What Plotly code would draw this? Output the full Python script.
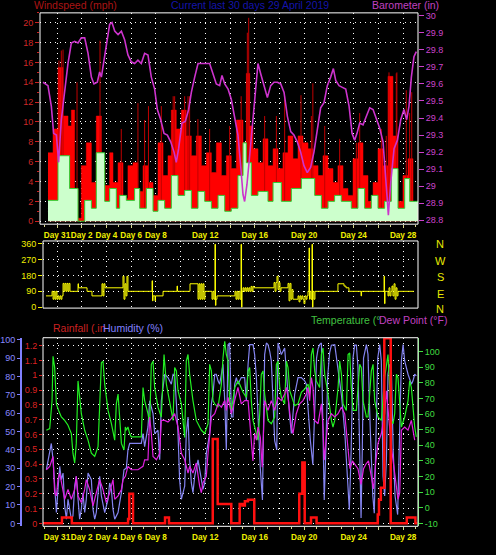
import plotly.graph_objects as go

W, H = 496, 555

# ---------------- data (time in days relative to 31 March 00:00) ----------------
day_ticks = [0, 2, 4, 6, 8, 10, 12, 14, 16, 18, 20, 22, 24, 26, 28]
day_text = ["Day 31", "Day 2", "Day 4", "Day 6", "Day 8", "", "Day 12", "", "Day 16", "",
            "Day 20", "", "Day 24", "", "Day 28"]

wind_ticks = [0, 2, 4, 6, 8, 10, 12, 14, 16, 18, 20]
baro_ticks = [28.8, 28.9, 29.0, 29.1, 29.2, 29.3, 29.4, 29.5, 29.6, 29.7, 29.8, 29.9, 30.0]
baro_text = ["28.8", "28.9", "29", "29.1", "29.2", "29.3", "29.4", "29.5", "29.6", "29.7", "29.8", "29.9", "30"]
dir_ticks = [0, 90, 180, 270, 360]
rain_ticks = [0, 0.1, 0.2, 0.3, 0.4, 0.5, 0.6, 0.7, 0.8, 0.9, 1.0, 1.1, 1.2]
rain_text = ["0", "0.1", "0.2", "0.3", "0.4", "0.5", "0.6", "0.7", "0.8", "0.9", "1", "1.1", "1.2"]
hum_ticks = [0, 10, 20, 30, 40, 50, 60, 70, 80, 90, 100]
temp_ticks = [-10, 0, 10, 20, 30, 40, 50, 60, 70, 80, 90, 100]
temp_text = ["-10", "0", "10", "20", "30", "40", "50", "60", "70", "80", "90", "100"]

gust_t = [-0.73, -0.32, 0.08, 0.49, 0.89, 1.16, 1.43, 1.70, 1.97, 2.37,
          2.78, 3.18, 3.59, 3.86, 4.26, 4.53, 4.94, 5.34, 5.74, 6.15,
          6.55, 6.96, 7.36, 7.77, 8.17, 8.58, 8.98, 9.25, 9.65, 10.06,
          10.46, 10.87, 11.27, 11.68, 12.08, 12.49, 12.89, 13.30, 13.70, 14.10,
          14.51, 15.05, 15.32, 15.59, 15.86, 16.26, 16.67, 17.07, 17.48, 17.88,
          18.28, 18.69, 19.09, 19.50, 19.90, 20.31, 20.71, 21.12, 21.52, 21.93,
          22.33, 22.73, 23.14, 23.54, 23.95, 24.35, 24.76, 25.16, 25.57, 25.97,
          26.38, 26.78, 27.18, 27.59, 27.99, 28.40, 28.80, 29.20]
gust_v = [6.9, 9.3, 15.5, 10.6, 9.6, 11.2, 3.3, 0.3, 5.6, 7.9,
          3.9, 10.6, 5.9, 3.6, 6.9, 3.9, 5.9, 2.3, 5.6, 5.9,
          3.0, 5.6, 3.9, 2.6, 7.9, 4.6, 6.6, 11.2, 9.3, 11.2,
          8.6, 6.6, 8.6, 5.6, 6.9, 4.9, 7.9, 4.6, 6.6, 5.3,
          10.2, 7.9, 14.9, 9.6, 7.3, 5.9, 8.3, 5.6, 7.3, 5.3,
          6.9, 8.6, 6.3, 8.6, 7.9, 7.3, 5.6, 4.6, 6.6, 5.3,
          3.9, 5.6, 3.3, 2.6, 6.3, 7.9, 4.6, 2.0, 3.9, 7.3,
          5.6, 14.6, 8.6, 2.0, 4.6, 6.3, 1.3, 1.3]

peak_t = [0.16, 0.35, 0.49, 1.62, 3.48, 5.2, 6.55, 7.09, 7.4, 8.44,
          9.4, 9.52, 10.33, 10.6, 10.73, 11.4, 12.35, 13.97, 14.9, 15.4,
          15.51, 16.8, 17.75, 18.42, 19.74, 20.58, 20.7, 21.66, 22.87, 24.22,
          24.49, 26.24, 26.64, 26.86, 27.45, 27.5, 28.26, 28.53, 28.7]
peak_v = [16.2, 17.2, 17.3, 14.0, 18.2, 9.3, 11.9, 10.2, 11.6, 11.6,
          12.6, 12.6, 12.6, 12.6, 12.6, 10.3, 9.3, 9.6, 12.6, 19.0,
          20.5, 10.6, 10.6, 12.6, 12.7, 10.6, 13.9, 9.6, 8.3, 7.9,
          10.9, 9.3, 8.6, 15.0, 14.9, 15.0, 13.2, 10.9, 13.0]

avg_t = [-0.73, 0.08, 1.02, 1.70, 2.24, 2.78, 3.18, 3.86, 4.26, 4.80,
         5.07, 5.61, 6.28, 6.69, 7.23, 7.77, 8.17, 8.71, 9.25, 9.79,
         10.33, 10.87, 11.41, 11.95, 12.49, 13.03, 13.57, 14.10, 14.64, 15.05,
         15.32, 15.72, 16.26, 17.07, 17.48, 18.15, 18.96, 19.77, 20.85, 21.39,
         21.93, 22.46, 23.00, 23.81, 24.35, 24.89, 25.43, 25.97, 26.51, 27.05,
         27.59, 28.13, 28.53, 29.20]
avg_v = [2.1, 6.6, 3.3, 0, 2.1, 1.3, 6.9, 2.0, 3.3, 1.3,
         2.6, 2.1, 3.3, 1.3, 3.3, 1.0, 2.1, 1.3, 4.6, 2.6,
         3.1, 1.3, 3.0, 2.0, 1.3, 2.6, 1.0, 1.3, 4.6, 7.9,
         5.9, 2.6, 3.0, 2.0, 3.9, 2.0, 3.3, 4.3, 2.6, 1.3,
         2.0, 2.6, 2.0, 1.3, 3.3, 1.3, 2.6, 1.3, 2.0, 5.3,
         1.3, 4.3, 2.0, 2.0]

baro_t = [-1.13, -0.73, -0.46, -0.27, -0.05, 0.13, 0.35, 0.62, 0.89, 1.16,
          1.43, 1.70, 1.97, 2.24, 2.51, 2.78, 2.99, 3.26, 3.45, 3.59,
          3.80, 4.05, 4.26, 4.45, 4.67, 4.94, 5.21, 5.47, 5.74, 6.01,
          6.28, 6.55, 6.82, 7.09, 7.36, 7.63, 7.90, 8.12, 8.39, 8.66,
          8.93, 9.20, 9.47, 9.65, 9.84, 10.11, 10.38, 10.65, 10.87, 11.14,
          11.41, 11.73, 12.08, 12.35, 12.62, 12.89, 13.16, 13.35, 13.57, 13.84,
          14.10, 14.37, 14.64, 14.86, 15.05, 15.18, 15.37, 15.59, 15.78, 16.05,
          16.26, 16.48, 16.75, 17.02, 17.29, 17.56, 17.83, 18.10, 18.37, 18.64,
          18.91, 19.17, 19.44, 19.71, 19.98, 20.25, 20.52, 20.79, 21.06, 21.33,
          21.60, 21.87, 22.14, 22.36, 22.55, 22.82, 23.09, 23.36, 23.63, 23.87,
          24.08, 24.27, 24.49, 24.76, 25.03, 25.30, 25.57, 25.84, 26.11, 26.38,
          26.56, 26.70, 26.81, 27.00, 27.27, 27.54, 27.81, 28.07, 28.29, 28.48,
          28.67, 28.88, 29.07]
baro_v = [29.61, 29.59, 29.47, 29.31, 29.30, 29.14, 29.39, 29.55, 29.72, 29.84,
          29.85, 29.84, 29.87, 29.87, 29.78, 29.64, 29.60, 29.61, 29.67, 29.64,
          29.74, 29.87, 29.95, 29.96, 29.91, 29.89, 29.91, 29.86, 29.77, 29.73,
          29.72, 29.74, 29.72, 29.78, 29.77, 29.64, 29.57, 29.45, 29.39, 29.31,
          29.30, 29.26, 29.20, 29.14, 29.22, 29.37, 29.38, 29.45, 29.55, 29.64,
          29.72, 29.72, 29.72, 29.72, 29.66, 29.60, 29.59, 29.65, 29.60, 29.57,
          29.51, 29.41, 29.30, 29.12, 28.95, 28.91, 29.01, 29.18, 29.33, 29.59,
          29.72, 29.66, 29.59, 29.52, 29.59, 29.61, 29.61, 29.60, 29.55, 29.41,
          29.32, 29.30, 29.26, 29.20, 29.12, 29.08, 29.11, 29.20, 29.33, 29.46,
          29.49, 29.59, 29.64, 29.69, 29.62, 29.59, 29.58, 29.57, 29.47, 29.31,
          29.27, 29.31, 29.37, 29.36, 29.41, 29.46, 29.45, 29.39, 29.34, 29.26,
          29.10, 28.93, 28.83, 29.02, 29.22, 29.27, 29.39, 29.45, 29.39, 29.47,
          29.64, 29.76, 29.79]

dir_t = [-0.89, -0.40, -0.32, -0.24, -0.16, -0.08, 0.00, 0.08, 0.16, 0.24,
         0.32, 0.40, 0.49, 0.57, 0.65, 0.73, 0.81, 0.89, 0.97, 1.05,
         1.70, 1.74, 2.43, 2.83, 3.64, 3.72, 3.80, 3.88, 5.34, 5.42,
         5.50, 5.58, 5.66, 5.74, 7.69, 7.73, 7.77, 7.93, 7.97, 8.58,
         9.71, 9.75, 10.76, 11.41, 11.49, 11.57, 11.65, 11.73, 11.81, 11.89,
         11.97, 12.54, 12.62, 12.70, 12.78, 12.82, 12.86, 12.94, 14.40, 14.48,
         14.56, 14.64, 14.72, 14.81, 14.89, 14.93, 14.97, 15.05, 15.13, 15.21,
         15.29, 15.37, 15.45, 15.53, 15.61, 15.70, 15.78, 15.86, 15.94, 17.56,
         17.64, 17.72, 17.80, 17.88, 17.96, 18.04, 18.12, 18.69, 18.77, 18.85,
         18.93, 19.01, 19.09, 19.50, 19.58, 19.66, 19.74, 19.82, 19.90, 19.98,
         20.06, 20.15, 20.23, 20.31, 20.39, 20.43, 20.47, 20.55, 20.63, 20.67,
         20.71, 20.79, 20.87, 22.73, 23.22, 23.38, 23.62, 24.60, 24.64, 26.46,
         26.50, 26.54, 26.78, 26.86, 26.94, 27.02, 27.10, 27.18, 27.27, 27.35,
         27.43, 27.51, 27.59, 28.88]
dir_v = [64, 90, 45, 90, 45, 90, 45, 64, 45, 64,
         45, 64, 135, 90, 135, 90, 135, 90, 135, 90,
         133, 110, 90, 64, 133, 64, 133, 110, 176, 45,
         133, 64, 176, 90, 150, 36, 64, 36, 64, 90,
         120, 90, 133, 45, 133, 45, 133, 45, 133, 45,
         90, 45, 90, 45, 358, 10, 45, 64, 90, 45,
         90, 45, 90, 45, 358, 0, 90, 110, 90, 110,
         90, 110, 90, 110, 90, 118, 90, 118, 110, 140,
         90, 140, 176, 100, 140, 90, 110, 135, 36, 135,
         45, 100, 45, 64, 30, 64, 45, 64, 45, 20,
         64, 45, 64, 90, 337, 45, 90, 45, 358, 0,
         90, 45, 90, 133, 120, 110, 90, 64, 90, 176,
         20, 90, 64, 110, 64, 90, 120, 64, 133, 45,
         110, 64, 90, 90]

temp_t = [-0.86, -0.59, -0.40, -0.32, -0.19, -0.05, 0.13, 0.35, 0.62, 0.89,
          1.16, 1.29, 1.43, 1.56, 1.70, 1.83, 1.97, 2.24, 2.51, 2.78,
          3.05, 3.32, 3.59, 3.72, 3.86, 4.13, 4.40, 4.67, 4.80, 4.94,
          5.07, 5.21, 5.42, 5.53, 5.61, 5.74, 5.88, 6.01, 6.55, 6.82,
          6.96, 7.09, 7.36, 7.50, 7.63, 7.77, 7.90, 8.17, 8.44, 8.58,
          8.66, 8.85, 9.12, 9.39, 9.52, 9.66, 9.79, 10.06, 10.33, 10.46,
          10.60, 10.73, 11.00, 11.27, 11.54, 11.68, 11.95, 12.22, 12.35, 12.49,
          12.62, 12.76, 13.03, 13.30, 13.43, 13.57, 13.70, 13.84, 13.97, 14.11,
          14.38, 14.64, 14.78, 15.05, 15.32, 15.46, 15.59, 15.72, 15.86, 16.13,
          16.26, 16.40, 16.53, 16.67, 16.80, 17.07, 17.34, 17.61, 17.75, 17.88,
          18.02, 18.15, 18.42, 18.56, 18.69, 18.83, 19.09, 19.23, 19.50, 19.77,
          20.04, 20.31, 20.44, 20.58, 20.71, 20.85, 20.98, 21.25, 21.39, 21.52,
          21.66, 21.93, 22.20, 22.33, 22.47, 22.74, 22.87, 23.01, 23.14, 23.41,
          23.55, 23.68, 23.81, 23.95, 24.22, 24.49, 24.62, 24.76, 25.03, 25.16,
          25.43, 25.57, 25.70, 25.97, 26.24, 26.38, 26.51, 26.78, 27.05, 27.19,
          27.32, 27.46, 27.59, 27.86, 28.13, 28.40, 28.53, 28.67, 28.80, 28.94,
          29.07]
temp_v = [49.6, 50.7, 68.6, 97.0, 89.7, 66.5, 62.3, 58.1, 55.9, 52.8,
          47.5, 34.9, 28.6, 41.2, 81.2, 70.7, 60.2, 49.6, 43.3, 34.9,
          32.8, 39.1, 92.8, 93.9, 79.1, 62.3, 53.8, 43.3, 66.5, 72.8,
          55.9, 41.2, 37.0, 51.7, 49.6, 51.7, 47.5, 45.4, 45.4, 45.4,
          77.0, 68.6, 60.2, 53.8, 91.8, 93.9, 77.0, 64.4, 58.1, 85.4,
          98.1, 79.1, 68.6, 55.9, 89.7, 87.6, 74.9, 66.5, 45.0, 93.9,
          98.1, 85.4, 68.6, 55.9, 51.7, 49.6, 47.5, 53.8, 91.8, 87.6,
          68.6, 66.5, 64.4, 79.1, 96.0, 106.5, 98.1, 93.9, 68.6, 62.3,
          77.0, 81.2, 79.1, 73.9, 70.7, 87.6, 89.7, 68.6, 55.9, 47.5,
          43.3, 60.2, 85.4, 87.6, 72.8, 55.9, 53.8, 58.1, 91.8, 93.9,
          77.0, 70.7, 66.5, 93.9, 89.7, 74.9, 68.6, 65.4, 66.5, 73.9,
          76.0, 79.1, 72.8, 98.1, 102.3, 87.6, 81.2, 77.0, 98.1, 102.3,
          85.4, 72.8, 55.9, 51.7, 55.9, 77.0, 93.9, 85.4, 66.5, 62.3,
          98.1, 99.1, 77.0, 62.3, 62.3, 91.8, 89.7, 68.6, 58.1, 58.1,
          87.6, 91.8, 68.6, 58.1, 55.9, 68.6, 83.3, 98.1, 55.9, 53.8,
          60.2, 85.4, 83.3, 51.7, 58.1, 68.6, 81.2, 77.0, 62.3, 51.7,
          45.4]

dew_t = [-0.86, -0.59, -0.32, -0.19, -0.05, 0.08, 0.22, 0.35, 0.62, 0.89,
         1.16, 1.43, 1.56, 1.70, 1.97, 2.24, 2.37, 2.64, 2.91, 3.18,
         3.45, 3.72, 3.99, 4.26, 4.53, 4.67, 4.94, 5.21, 5.34, 5.53,
         5.74, 6.01, 6.55, 6.96, 7.09, 7.36, 7.50, 7.63, 7.77, 8.04,
         8.31, 8.44, 8.71, 8.98, 9.25, 9.52, 9.79, 10.06, 10.33, 10.60,
         10.73, 11.00, 11.27, 11.54, 11.68, 11.81, 12.08, 12.22, 12.35, 12.49,
         12.76, 13.03, 13.30, 13.57, 13.70, 13.84, 14.11, 14.38, 14.64, 14.91,
         15.18, 15.46, 15.72, 15.85, 15.99, 16.13, 16.26, 16.45, 16.60, 16.72,
         16.80, 17.07, 17.34, 17.61, 17.88, 18.15, 18.42, 18.56, 18.69, 18.96,
         19.09, 19.36, 19.63, 19.90, 20.17, 20.31, 20.44, 20.58, 20.71, 20.85,
         21.12, 21.39, 21.52, 21.62, 21.93, 22.20, 22.47, 22.74, 23.01, 23.28,
         23.50, 23.70, 23.90, 24.10, 24.35, 24.60, 24.80, 25.00, 25.20, 25.43,
         25.60, 25.80, 25.97, 26.24, 26.51, 26.65, 26.78, 27.05, 27.32, 27.59,
         27.73, 27.86, 28.13, 28.40, 28.67, 28.94]
dew_v = [24.3, 26.5, 32.8, 9.6, 7.5, 18.0, 22.2, 15.9, 5.4, 11.7,
         5.4, 11.7, 20.1, 7.5, 3.3, 11.7, 18.0, 11.7, 1.2, 9.6,
         18.0, 11.7, 3.3, 9.6, 18.0, 5.4, 7.5, 11.7, 18.0, 20.1,
         26.5, 24.3, 24.3, 26.5, 30.7, 30.7, 58.1, 47.5, 32.8, 30.7,
         34.9, 55.9, 55.9, 54.9, 57.0, 60.2, 51.7, 34.9, 30.7, 22.2,
         26.5, 22.2, 28.6, 13.8, 9.6, 15.9, 20.1, 34.9, 45.4, 58.1,
         60.2, 66.5, 64.4, 68.6, 62.3, 70.7, 60.2, 69.6, 77.0, 66.5,
         68.6, 68.6, 40.0, 30.0, 47.5, 43.3, 51.7, 45.0, 26.0, 55.0,
         68.6, 62.3, 68.6, 62.3, 70.7, 68.6, 72.8, 77.0, 70.7, 51.7,
         47.5, 60.2, 66.5, 68.6, 72.8, 77.0, 68.6, 83.3, 77.0, 55.9,
         53.8, 66.5, 51.7, 30.5, 55.9, 60.2, 58.1, 60.2, 64.4, 60.0,
         40.0, 25.0, 30.0, 28.0, 25.0, 15.0, 25.0, 28.0, 30.0, 20.1,
         12.0, 30.0, 41.2, 47.5, 60.2, 74.9, 62.3, 39.1, 22.2, 5.4,
         9.6, 49.6, 51.7, 49.6, 55.9, 43.3]

hum_t = [-0.86, -0.59, -0.46, -0.32, -0.19, -0.05, 0.08, 0.22, 0.35, 0.49,
         0.62, 0.76, 0.89, 1.02, 1.16, 1.29, 1.43, 1.56, 1.70, 1.83,
         1.97, 2.10, 2.24, 2.37, 2.51, 2.78, 2.91, 3.05, 3.18, 3.32,
         3.45, 3.59, 3.86, 4.13, 4.26, 4.40, 4.53, 4.67, 4.94, 5.07,
         5.21, 5.42, 5.61, 5.74, 5.88, 6.15, 6.82, 6.96, 7.09, 7.36,
         7.50, 7.63, 7.77, 7.90, 8.17, 8.31, 8.44, 8.58, 8.71, 8.98,
         9.25, 9.39, 9.52, 9.66, 9.79, 9.92, 10.06, 10.33, 10.46, 10.60,
         10.73, 10.87, 11.00, 11.14, 11.41, 11.68, 11.81, 11.95, 12.08, 12.22,
         12.35, 12.49, 12.62, 12.76, 12.89, 13.03, 13.16, 13.30, 13.43, 13.57,
         13.70, 13.84, 13.97, 14.11, 14.24, 14.38, 14.51, 14.64, 14.91, 15.18,
         15.32, 15.46, 15.59, 15.86, 15.99, 16.13, 16.26, 16.45, 16.62, 16.72,
         16.80, 16.94, 17.07, 17.21, 17.34, 17.61, 17.78, 17.88, 18.15, 18.42,
         18.56, 18.69, 18.83, 18.96, 19.23, 19.50, 19.77, 20.04, 20.17, 20.31,
         20.50, 20.70, 20.85, 21.00, 21.12, 21.25, 21.39, 21.50, 21.62, 21.75,
         21.90, 22.06, 22.20, 22.47, 22.74, 23.01, 23.28, 23.50, 23.65, 23.80,
         23.95, 24.08, 24.22, 24.35, 24.50, 24.60, 24.70, 24.80, 25.03, 25.16,
         25.35, 25.55, 25.67, 25.80, 25.95, 26.11, 26.24, 26.38, 26.51, 26.65,
         26.78, 26.92, 27.05, 27.20, 27.35, 27.56, 27.70, 27.86, 28.00, 28.13,
         28.40, 28.67, 28.80, 28.94, 29.07]
hum_v = [29.2, 40.0, 43.5, 34.6, 18.5, 5.9, 18.5, 31.0, 23.8, 27.4,
         9.5, 2.3, 13.1, 7.7, 2.3, 4.1, 20.3, 25.6, 13.1, 2.3,
         7.7, 16.7, 5.9, 13.1, 27.4, 23.8, 7.7, 2.3, 5.9, 18.5,
         25.6, 14.9, 5.9, 13.1, 22.0, 18.5, 7.7, 2.3, 5.9, 11.3,
         16.7, 29.2, 30.1, 40.0, 43.5, 43.5, 43.5, 48.9, 41.8, 52.5,
         66.8, 63.3, 59.7, 48.9, 50.7, 34.6, 66.8, 74.0, 81.2, 79.4,
         75.8, 81.2, 81.2, 65.1, 48.9, 23.8, 13.1, 20.3, 48.9, 57.9,
         34.6, 22.0, 16.7, 25.6, 34.6, 23.8, 18.5, 22.0, 38.2, 43.5,
         48.9, 65.1, 70.4, 81.2, 81.2, 77.6, 75.8, 81.2, 86.6, 66.8,
         40.0, 97.3, 98.2, 57.9, 57.9, 75.8, 79.4, 75.8, 79.4, 79.4,
         66.8, 86.6, 97.3, 97.3, 91.9, 79.4, 57.9, 30.0, 12.7, 60.0,
         91.9, 98.2, 97.3, 93.7, 88.4, 45.0, 40.0, 98.2, 91.9, 95.5,
         84.8, 70.4, 57.9, 48.9, 70.4, 79.4, 79.4, 77.6, 75.8, 61.5,
         45.0, 32.0, 60.0, 90.0, 95.0, 97.3, 98.2, 60.0, 12.7, 40.0,
         80.0, 93.0, 97.0, 97.3, 85.0, 70.0, 50.0, 25.0, 7.4, 40.0,
         90.0, 97.0, 97.0, 85.0, 30.0, 2.9, 40.0, 90.0, 97.3, 92.0,
         50.0, 15.0, 5.5, 50.0, 90.0, 97.3, 88.4, 25.6, 14.9, 34.6,
         81.2, 86.6, 84.8, 40.0, 15.0, 4.8, 45.0, 88.4, 97.3, 88.4,
         81.2, 75.8, 77.6, 81.2, 80.3]

rain_t = [-1.2, 0.4, 1.2, 5.75, 5.85, 6.15, 8.74, 9.06, 12.6, 13.0,
          14.1, 14.78, 15.0, 15.2, 15.45, 15.96, 19.6, 19.85, 20.04, 20.55,
          21.0, 25.95, 26.05, 26.2, 26.48, 27.0, 28.3, 29.0, 29.15]
rain_v = [0, 0.04, 0, 0.03, 0.2, 0, 0.04, 0, 0.57, 0.13,
          0, 0.13, 0.12, 0.15, 0.16, 0, 0.2, 0.41, 0, 0.04,
          0, 0.06, 0.16, 0.24, 1.25, 0, 0.04, 0, 0]

for a, b in [(gust_t, gust_v), (peak_t, peak_v), (avg_t, avg_v), (baro_t, baro_v),
             (dir_t, dir_v), (temp_t, temp_v), (dew_t, dew_v), (hum_t, hum_v), (rain_t, rain_v)]:
    assert len(a) == len(b), (len(a), len(b))

# ---------------- helpers ----------------
def px(x):
    return x / W

def py(y):
    return 1 - y / H

FONT = "Liberation Sans, Arial, sans-serif"
GRID = dict(showgrid=True, gridcolor="#ffffff", griddash="1px,4px", gridwidth=1)
YEL = "#f0f000"

fig = go.Figure()

# ---- top panel: wind + barometer ----
fig.add_trace(go.Scatter(x=gust_t, y=gust_v, mode="lines", line=dict(shape="hv", width=0.5, color="#ff0000"),
                         fill="tozeroy", fillcolor="#ff0000", xaxis="x", yaxis="y", hoverinfo="skip"))
sx, sy = [], []
for t, v in zip(peak_t, peak_v):
    sx += [t, t, None]
    sy += [0, v, None]
fig.add_trace(go.Scatter(x=sx, y=sy, mode="lines", line=dict(width=1, color="#c00000"),
                         xaxis="x", yaxis="y", hoverinfo="skip"))
fig.add_trace(go.Scatter(x=avg_t, y=avg_v, mode="lines", line=dict(shape="hv", width=1, color="#33cc33"),
                         fill="tozeroy", fillcolor="#ccffcc", xaxis="x", yaxis="y", hoverinfo="skip"))
fig.add_trace(go.Scatter(x=baro_t, y=baro_v, mode="lines", line=dict(width=1.6, color="#cc33cc"),
                         xaxis="x", yaxis="y2", hoverinfo="skip"))

# ---- middle panel: wind direction ----
fig.add_trace(go.Scatter(x=dir_t, y=dir_v, mode="lines", line=dict(shape="hv", width=1, color="#ffff00"),
                         xaxis="x2", yaxis="y3", hoverinfo="skip"))

# ---- bottom panel ----
fig.add_trace(go.Scatter(x=hum_t, y=hum_v, mode="lines", line=dict(width=1.2, color="#8484f0"),
                         xaxis="x3", yaxis="y4", hoverinfo="skip"))
fig.add_trace(go.Scatter(x=temp_t, y=temp_v, mode="lines", line=dict(width=1.2, color="#22ee22"),
                         xaxis="x3", yaxis="y5", hoverinfo="skip"))
fig.add_trace(go.Scatter(x=dew_t, y=dew_v, mode="lines", line=dict(width=1.2, color="#e020e0"),
                         xaxis="x3", yaxis="y5", hoverinfo="skip"))
fig.add_trace(go.Scatter(x=rain_t, y=rain_v, mode="lines", line=dict(shape="hv", width=2.5, color="#ff1010"),
                         xaxis="x3", yaxis="y6", hoverinfo="skip"))

top_x = [px(40), px(418)]
low_x = [px(43), px(418)]
top_y = [py(224), py(10)]
mid_y = [py(309), py(241)]
bot_y = [py(530), py(339)]

xcommon = dict(tickmode="array", tickvals=day_ticks, ticktext=day_text, zeroline=False,
               showline=False, tickangle=0, **GRID)
DAYFONT = dict(color=YEL, size=8.2, family=FONT, weight="bold")

fig.update_layout(
    width=W, height=H, margin=dict(l=0, r=0, t=0, b=0),
    paper_bgcolor="black", plot_bgcolor="black", showlegend=False,
    font=dict(family=FONT, size=9, color="white"),
    xaxis=dict(domain=top_x, range=[-1.375, 29.207], anchor="y",
               ticks="outside", ticklen=3, tickcolor="#d8d890",
               tickfont=DAYFONT,
               minor=dict(tickmode="linear", tick0=0, dtick=1, ticks="outside", ticklen=2,
                          tickcolor="#d8d890", showgrid=False),
               **xcommon),
    yaxis=dict(domain=top_y, range=[-0.3, 21.0], anchor="x", tickmode="array", tickvals=wind_ticks,
               ticks="outside", ticklen=4, tickcolor="#cc2020", tickfont=dict(color="#d02828"),
               minor=dict(tickmode="linear", tick0=0, dtick=1, ticks="outside", ticklen=2,
                          tickcolor="#cc2020", showgrid=False),
               zeroline=False, showline=False, **GRID),
    yaxis2=dict(overlaying="y", side="right", anchor="x", range=[28.777, 30.017], tickmode="array",
                tickvals=baro_ticks, ticktext=baro_text, ticks="outside", ticklen=5, tickcolor="#cc40cc",
                tickfont=dict(color="#cc44cc"), showgrid=False, zeroline=False, showline=False),
    xaxis2=dict(domain=low_x, range=[-1.133, 29.207], anchor="y3", showticklabels=False, ticks="",
                **xcommon),
    yaxis3=dict(domain=mid_y, range=[-5.6, 376.9], anchor="x2", tickmode="array", tickvals=dir_ticks,
                ticks="outside", ticklen=4, tickcolor=YEL, tickfont=dict(color=YEL),
                zeroline=False, showline=False, **GRID),
    xaxis3=dict(domain=low_x, range=[-1.133, 29.207], anchor="y4",
                ticks="outside", ticklen=3, tickcolor="#d8d890",
                tickfont=DAYFONT,
                minor=dict(tickmode="linear", tick0=0, dtick=1, ticks="outside", ticklen=2,
                           tickcolor="#d8d890", showgrid=False),
                **xcommon),
    yaxis4=dict(domain=bot_y, range=[-1.61, 101.08], anchor="free", position=px(21), side="left",
                tickmode="array", tickvals=hum_ticks, ticks="outside", ticklen=3, tickcolor="#8080ff",
                tickfont=dict(color="#8888ff"), showline=True, linecolor="#8080ff", linewidth=2,
                showgrid=False, zeroline=False),
    yaxis5=dict(overlaying="y4", side="right", anchor="x3", range=[-11.9, 108.85], tickmode="array",
                tickvals=temp_ticks, ticktext=temp_text, ticks="outside", ticklen=4, tickcolor="#40dd40",
                tickfont=dict(color="#40dd40"), showline=True, linecolor="#40dd40", linewidth=1,
                showgrid=False, zeroline=False),
    yaxis6=dict(overlaying="y4", side="left", anchor="x3", range=[-0.02, 1.2533], tickmode="array",
                tickvals=rain_ticks, ticktext=rain_text, ticks="outside", ticklen=3, tickcolor="#dd2222",
                tickfont=dict(color="#dd2222"), showline=False, zeroline=False, **GRID),
)

# frames
for xr, yr in [("x", "y"), ("x2", "y3"), ("x3", "y4")]:
    fig.add_shape(type="rect", xref=f"{xr} domain", yref=f"{yr} domain", x0=0, x1=1, y0=0, y1=1,
                  line=dict(color="#ffffff", width=1), layer="above")

def label(text, x, y, color, xanchor="center", size=10.5):
    fig.add_annotation(text=text, x=px(x), y=py(y), xref="paper", yref="paper", xanchor=xanchor,
                       yanchor="middle", showarrow=False, font=dict(family=FONT, size=size, color=color))

label("Windspeed (mph)", 75.5, 2.5, "#aa1414")
label("Current last 30 days 29 April 2019", 250.5, 2.5, "#1414aa")
label("Barometer (in)", 405, 2.5, "#c040c0")
label("Temperature (°", 309, 321, "#40c040", xanchor="left")
label("Dew Point (°F)", 377, 321, "#c040c0", xanchor="left")
label("Rainfall (.in", 51, 329, "#cc2222", xanchor="left")
label("Humidity (%)", 101, 329, "#8080ff", xanchor="left")
for ch, yy in zip(["N", "W", "S", "E", "N"], [244, 261, 278, 295, 310]):
    label(ch, 440, yy, "#e8e800", size=11)

fig.write_html("out.html")
